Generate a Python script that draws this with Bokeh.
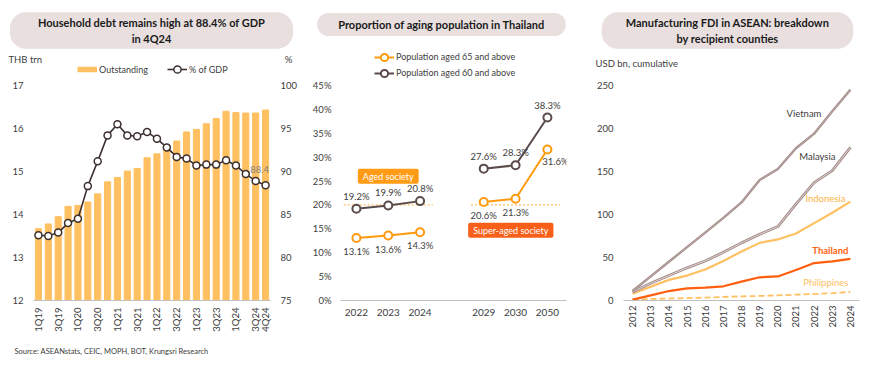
import math
from bokeh.plotting import figure
from bokeh.layouts import row, column
from bokeh.models import (Range1d, LinearAxis, FixedTicker, Label, LabelSet,
                          Legend, LegendItem, ColumnDataSource)
from bokeh.core.properties import value
from bokeh.embed import file_html
from bokeh.resources import INLINE

FONT = "Lato"
TXT = "#404040"
PILL = "#E8DFDE"
NAN = float("nan")

# ---------------- data: household debt ----------------
quarters = ["1Q19", "2Q19", "3Q19", "4Q19", "1Q20", "2Q20", "3Q20", "4Q20",
            "1Q21", "2Q21", "3Q21", "4Q21", "1Q22", "2Q22", "3Q22", "4Q22",
            "1Q23", "2Q23", "3Q23", "4Q23", "1Q24", "2Q24", "3Q24", "4Q24"]
outstanding = [13.67, 13.78, 13.95, 14.19, 14.21, 14.29, 14.48, 14.76,
               14.86, 15.01, 15.07, 15.32, 15.41, 15.56, 15.71, 15.92,
               15.98, 16.11, 16.23, 16.40, 16.37, 16.36, 16.36, 16.43]
pct_gdp = [82.6, 82.5, 82.9, 84.0, 84.5, 88.3, 91.2, 94.2,
           95.5, 94.2, 94.1, 94.6, 93.8, 92.8, 91.7, 91.5,
           90.7, 90.8, 90.8, 91.3, 90.7, 89.7, 88.9, 88.4]
shown_quarters = ["1Q19", "3Q19", "1Q20", "3Q20", "1Q21", "3Q21", "1Q22",
                  "3Q22", "1Q23", "3Q23", "1Q24", "3Q24", "4Q24"]
debt_ticks = [12, 13, 14, 15, 16, 17]
gdp_ticks = [75, 80, 85, 90, 95, 100]

# ---------------- data: aging population ----------------
age_years = ["2022", "2023", "2024", "2029", "2030", "2050"]
aged65 = [13.1, 13.6, 14.3, 20.6, 21.3, 31.6]
aged60 = [19.2, 19.9, 20.8, 27.6, 28.3, 38.3]
age_groups = [0, 0, 0, 1, 1, 1]
society_threshold = 20
pct_ticks = [0, 5, 10, 15, 20, 25, 30, 35, 40, 45]

# ---------------- data: FDI ----------------
fdi_years = list(range(2012, 2025))
vietnam = [11, 28, 45, 62, 79, 96, 114, 140, 153, 177, 194, 220, 245]
malaysia = [10, 20, 29, 38, 46, 56, 67, 77, 86, 112, 137, 151, 178]
indonesia = [8, 16, 24, 29, 36, 46, 57, 67, 71, 78, 90, 102, 115]
thailand = [1, 6, 11, 14, 15, 16.5, 22, 27, 28, 35.5, 43.5, 45.5, 48.5]
philippines = [1, 1.8, 2.3, 2.8, 3.3, 4.2, 4.8, 5.3, 6, 6.8, 7.5, 8.5, 10]
fdi_ticks = [0, 50, 100, 150, 200, 250]

# colours
C_BAR = "#FFC061"
C_GDP = "#3D3030"
C65, C60 = "#FF9A0E", "#5B4B4B"
MAUVE = "#A28B88"

W = 870
HEAD_H = 79
CHART_H = 263
FOOT_H = 24


def style_axes(p):
    p.xgrid.visible = False
    p.ygrid.visible = False
    for ax in p.axis:
        ax.major_tick_line_color = None
        ax.minor_tick_line_color = None
        ax.major_tick_out = 0
        ax.major_tick_in = 0
        ax.minor_tick_out = 0
        ax.major_label_text_font = FONT
        ax.major_label_text_font_size = "9.5px"
        ax.major_label_text_color = TXT
        ax.axis_line_color = None
    for ax in p.xaxis:
        ax.axis_line_color = "#BFBFBF"
        ax.axis_line_width = 1


def blank(width, height, y0, y1):
    f = figure(width=width, height=height, x_range=Range1d(0, width),
               y_range=Range1d(y1, y0), output_backend="svg", toolbar_location=None,
               min_border=0, x_axis_location=None, y_axis_location=None,
               outline_line_color=None)
    f.xgrid.visible = False
    f.ygrid.visible = False
    return f


# =============== header (titles, unit labels, legends) ===============
hd = blank(W, HEAD_H, 0, HEAD_H)


def pill(text, x, y, pad):
    hd.add_layout(Label(x=x, y=y, text=text, text_align="center",
                        text_baseline="middle", text_font=FONT,
                        text_font_style="bold", text_font_size="11px",
                        text_color="#1a1a1a", background_fill_color=PILL,
                        border_line_color=None, padding=pad, border_radius=16))


def plain(fig, text, x, y, align="left", size="9.5px"):
    fig.add_layout(Label(x=x, y=y, text=text, text_align=align,
                         text_baseline="middle", text_font=FONT,
                         text_font_size=size, text_color=TXT))


def legend(items, x, row_center):
    # one-row legend whose row is centred on row_center (pixels from the top)
    hd.add_layout(Legend(items=items, orientation="horizontal",
                         location=(x, HEAD_H - (row_center + 9)),
                         glyph_width=20, glyph_height=18, label_height=12,
                         label_standoff=2, spacing=19, padding=0, margin=0,
                         border_line_color=None, background_fill_alpha=0,
                         label_text_font=FONT, label_text_font_size="9px",
                         label_text_color=TXT))


pill("Household debt remains high at 88.4% of GDP\nin 4Q24", 151, 30, (28, 4))
pill("Proportion of aging population in Thailand", 441, 24, (21, 5))
pill("Manufacturing FDI in ASEAN: breakdown\nby recipient counties", 727, 30, (24, 4))
plain(hd, "THB trn", 8, 59)
plain(hd, "%", 288, 59, align="center")
plain(hd, "USD bn, cumulative", 595, 63)

# legend swatches: renderers that carry the series styles but draw nothing
lb = hd.line([NAN], [NAN], color=C_BAR, line_width=5.5)
ll = hd.line([NAN], [NAN], color=C_GDP, line_width=1.6)
ls = hd.scatter([NAN], [NAN], size=7, fill_color="white", line_color=C_GDP, line_width=1.5)
legend([LegendItem(label="Outstanding", renderers=[lb]),
        LegendItem(label="% of GDP", renderers=[ll, ls])], 77, 69)
a65l = hd.line([NAN], [NAN], color=C65, line_width=2)
a65s = hd.scatter([NAN], [NAN], size=8, fill_color="white", line_color=C65, line_width=2)
a60l = hd.line([NAN], [NAN], color=C60, line_width=2)
a60s = hd.scatter([NAN], [NAN], size=8, fill_color="white", line_color=C60, line_width=2)
legend([LegendItem(label="Population aged 65 and above", renderers=[a65l, a65s])], 374, 56.7)
legend([LegendItem(label="Population aged 60 and above", renderers=[a60l, a60s])], 374, 72.7)

# =============== left panel ===============
xi = list(range(len(quarters)))
p1 = figure(width=300, height=CHART_H, x_range=Range1d(-0.5, len(quarters) - 0.5),
            y_range=Range1d(12, 17), output_backend="svg", toolbar_location=None,
            min_border_left=33, min_border_right=28, min_border_top=6,
            min_border_bottom=42, outline_line_color=None)
p1.extra_y_ranges = {"pct": Range1d(75, 100)}
p1.add_layout(LinearAxis(y_range_name="pct", ticker=FixedTicker(ticks=gdp_ticks),
                         major_label_standoff=10), "right")
p1.vbar(x=xi, top=outstanding, bottom=12, width=0.62, color=C_BAR)
p1.line(xi, pct_gdp, y_range_name="pct", color=C_GDP, line_width=1.6)
p1.scatter(xi, pct_gdp, y_range_name="pct", size=7, fill_color="white",
           line_color=C_GDP, line_width=1.5)
style_axes(p1)
p1.yaxis[0].ticker = FixedTicker(ticks=debt_ticks)
p1.yaxis[0].major_label_standoff = 10
p1.xaxis.ticker = FixedTicker(ticks=[quarters.index(q) for q in shown_quarters])
p1.xaxis.major_label_overrides = {quarters.index(q): q for q in shown_quarters}
p1.xaxis.major_label_orientation = math.pi / 2
p1.xaxis.major_label_standoff = 7
p1.add_layout(Label(x=xi[-1], y=pct_gdp[-1], y_range_name="pct", text=f"{pct_gdp[-1]}",
                    x_offset=-6, y_offset=12, text_align="center", text_baseline="bottom",
                    text_font=FONT, text_font_size="9.5px", text_color="#7F7F7F"))

# =============== middle panel ===============
gap = 1
xpos = [i + gap * g for i, g in enumerate(age_groups)]
p2 = figure(width=275, height=CHART_H, x_range=Range1d(-0.5, max(xpos) + 0.6),
            y_range=Range1d(0, 45), output_backend="svg", toolbar_location=None,
            min_border_left=40, min_border_right=9, min_border_top=6,
            min_border_bottom=42, outline_line_color=None)
style_axes(p2)
p2.yaxis.ticker = FixedTicker(ticks=pct_ticks)
p2.yaxis.major_label_overrides = {t: f"{t}%" for t in pct_ticks}
p2.yaxis.major_label_standoff = 9
p2.xaxis.ticker = FixedTicker(ticks=xpos)
p2.xaxis.major_label_overrides = {x: y for x, y in zip(xpos, age_years)}
p2.xaxis.major_label_standoff = 8
p2.xaxis.major_label_text_font_size = "10px"

for g in sorted(set(age_groups)):
    idx = [i for i, gg in enumerate(age_groups) if gg == g]
    xs = [xpos[i] for i in idx]
    p2.segment(x0=[xs[0] - 0.4], x1=[xs[-1] + 0.4], y0=[society_threshold],
               y1=[society_threshold], color=C_BAR, line_width=1.2,
               line_dash="2 2")
    p2.line(xs, [aged60[i] for i in idx], color=C60, line_width=2)
    p2.scatter(xs, [aged60[i] for i in idx], size=8, fill_color="white",
               line_color=C60, line_width=2)
    p2.line(xs, [aged65[i] for i in idx], color=C65, line_width=2)
    p2.scatter(xs, [aged65[i] for i in idx], size=8, fill_color="white",
               line_color=C65, line_width=2)

src60 = ColumnDataSource(dict(x=xpos, y=aged60, t=[f"{v:.1f}%" for v in aged60]))
p2.add_layout(LabelSet(x="x", y="y", text="t", source=src60, text_align="center",
                       text_baseline="bottom", y_offset=7, text_font=value(FONT),
                       text_font_size=value("9.5px"), text_color=TXT))
src65 = ColumnDataSource(dict(x=xpos[:-1], y=aged65[:-1],
                              t=[f"{v:.1f}%" for v in aged65[:-1]]))
p2.add_layout(LabelSet(x="x", y="y", text="t", source=src65, text_align="center",
                       text_baseline="top", y_offset=-8, text_font=value(FONT),
                       text_font_size=value("9.5px"), text_color=TXT))
p2.add_layout(Label(x=xpos[-1], y=aged65[-1], text=f"{aged65[-1]:.1f}%", x_offset=8,
                    y_offset=-6, text_align="center", text_baseline="top",
                    text_font=FONT, text_font_size="9.5px", text_color=TXT))
p2.add_layout(Label(x=xpos[1], y=26, text="Aged society", text_align="center",
                    text_baseline="middle", text_font=FONT, text_font_size="9px",
                    text_color="white", background_fill_color="#FF9B14",
                    padding=(5, 2), border_radius=2))
p2.add_layout(Label(x=4.85, y=14.7, text="Super-aged society", text_align="center",
                    text_baseline="middle", text_font=FONT, text_font_size="9px",
                    text_color="white", background_fill_color="#F8601A",
                    padding=(5, 2), border_radius=2))

# =============== right panel ===============
p3 = figure(width=295, height=CHART_H,
            x_range=Range1d(fdi_years[0] - 0.5, fdi_years[-1] + 0.5),
            y_range=Range1d(0, 250), output_backend="svg", toolbar_location=None,
            min_border_left=48, min_border_right=11, min_border_top=6,
            min_border_bottom=42, outline_line_color=None)
style_axes(p3)
p3.yaxis.ticker = FixedTicker(ticks=fdi_ticks)
p3.yaxis.major_label_standoff = 10
p3.xaxis.ticker = FixedTicker(ticks=fdi_years)
p3.xaxis.major_label_orientation = math.pi / 2
p3.xaxis.major_label_standoff = 5

p3.line(fdi_years, philippines, color=C_BAR, line_width=1.8, line_dash="6 3")
p3.line(fdi_years, thailand, color="#FF5F0F", line_width=2.2)
p3.line(fdi_years, indonesia, color=C_BAR, line_width=2.2)
p3.line(fdi_years, malaysia, color=MAUVE, line_width=2.8)
p3.line(fdi_years, malaysia, color="#E6DCDB", line_width=0.9)
p3.line(fdi_years, vietnam, color=MAUVE, line_width=2.4)
p3.line(fdi_years, vietnam, color="#C9B8B6", line_width=0.7)

series_labels = [
    ("Vietnam", vietnam, TXT, "normal", -29, -24),
    ("Malaysia", malaysia, TXT, "normal", -15, -9),
    ("Indonesia", indonesia, "#FFB347", "normal", -5, 3),
    ("Thailand", thailand, "#FF5F0F", "bold", -2, 8),
    ("Philippines", philippines, C_BAR, "normal", -2, 9),
]
for name, vals, col, style, xo, yo in series_labels:
    p3.add_layout(Label(x=fdi_years[-1], y=vals[-1], text=name, x_offset=xo, y_offset=yo,
                        text_align="right", text_baseline="middle", text_font=FONT,
                        text_font_size="9.5px", text_font_style=style, text_color=col))

# =============== footer ===============
ft = blank(W, FOOT_H, HEAD_H + CHART_H, HEAD_H + CHART_H + FOOT_H)
plain(ft, "Source: ASEANstats, CEIC, MOPH, BOT, Krungsri Research", 14, 351,
      size="7.5px")

layout = column(hd, row(p1, p2, p3, spacing=0), ft, spacing=0)
open("out.html", "w").write(file_html(layout, INLINE))
